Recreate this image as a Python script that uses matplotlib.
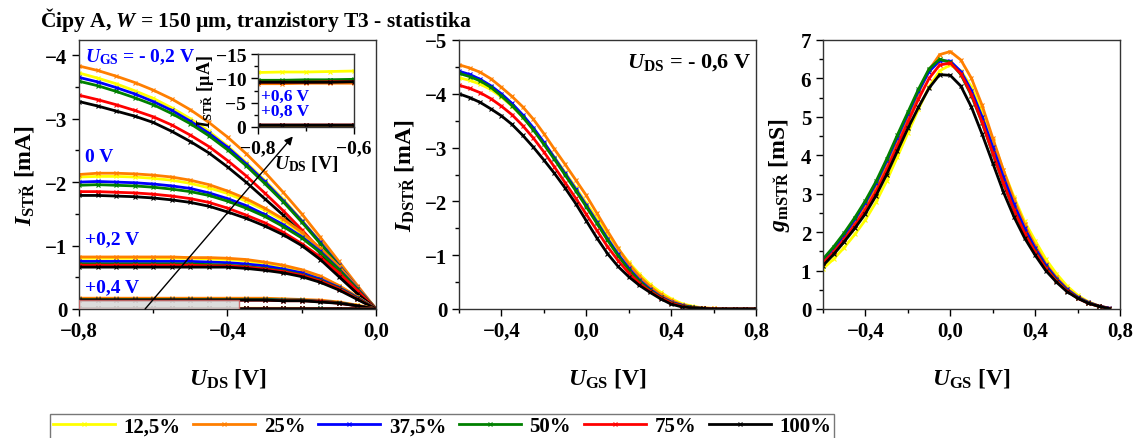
import numpy as np
import matplotlib
matplotlib.use('Agg')
import matplotlib.pyplot as plt
from matplotlib.ticker import MultipleLocator, FuncFormatter
from matplotlib.patches import Rectangle

plt.rcParams['font.family'] = ['Liberation Serif', 'DejaVu Serif']
plt.rcParams['font.weight'] = 'bold'
plt.rcParams['axes.labelweight'] = 'bold'
plt.rcParams['mathtext.fontset'] = 'custom'
plt.rcParams['mathtext.rm'] = 'Liberation Serif:bold'
plt.rcParams['mathtext.it'] = 'Liberation Serif:bold:italic'
plt.rcParams['mathtext.bf'] = 'Liberation Serif:bold'

####################  data  ####################
series = ['12,5%', '25%', '37,5%', '50%', '75%', '100%']
colors = ['#ffff00', '#ff7f00', '#0000ff', '#008000', '#ff0000', '#000000']

# output characteristics, U_DS [V], I [mA]
uds = [-0.80, -0.75, -0.70, -0.65, -0.60, -0.55, -0.50, -0.45, -0.40,
       -0.35, -0.30, -0.25, -0.20, -0.15, -0.10, -0.05, 0.00]

ids_m02 = [
    [-3.72, -3.64, -3.55, -3.44, -3.32, -3.17, -3.00, -2.80, -2.57, -2.31, -2.03, -1.73, -1.40, -1.06, -0.70, -0.34, 0],
    [-3.83, -3.76, -3.67, -3.57, -3.45, -3.31, -3.14, -2.94, -2.71, -2.45, -2.16, -1.84, -1.50, -1.13, -0.75, -0.37, 0],
    [-3.65, -3.58, -3.49, -3.39, -3.27, -3.13, -2.96, -2.77, -2.55, -2.29, -2.01, -1.71, -1.39, -1.05, -0.69, -0.34, 0],
    [-3.59, -3.52, -3.43, -3.33, -3.22, -3.08, -2.92, -2.73, -2.51, -2.26, -1.98, -1.69, -1.37, -1.03, -0.68, -0.33, 0],
    [-3.37, -3.30, -3.22, -3.13, -3.03, -2.90, -2.74, -2.56, -2.34, -2.10, -1.83, -1.55, -1.25, -0.93, -0.61, -0.29, 0],
    [-3.27, -3.20, -3.12, -3.04, -2.94, -2.80, -2.64, -2.46, -2.24, -2.00, -1.74, -1.48, -1.19, -0.88, -0.56, -0.26, 0],
]
ids_0 = [
    [-2.08, -2.09, -2.09, -2.08, -2.06, -2.03, -1.98, -1.91, -1.82, -1.70, -1.56, -1.39, -1.19, -0.94, -0.66, -0.33, 0],
    [-2.12, -2.14, -2.14, -2.13, -2.11, -2.08, -2.03, -1.96, -1.86, -1.74, -1.59, -1.42, -1.21, -0.96, -0.67, -0.34, 0],
    [-2.00, -2.01, -2.00, -1.99, -1.97, -1.94, -1.90, -1.83, -1.74, -1.63, -1.49, -1.33, -1.14, -0.91, -0.63, -0.32, 0],
    [-1.95, -1.96, -1.95, -1.94, -1.92, -1.89, -1.85, -1.79, -1.70, -1.59, -1.46, -1.30, -1.12, -0.89, -0.62, -0.31, 0],
    [-1.85, -1.85, -1.84, -1.83, -1.81, -1.78, -1.74, -1.68, -1.59, -1.48, -1.36, -1.21, -1.03, -0.82, -0.57, -0.29, 0],
    [-1.79, -1.79, -1.78, -1.77, -1.75, -1.72, -1.68, -1.62, -1.53, -1.43, -1.31, -1.17, -1.00, -0.78, -0.51, -0.24, 0],
]
ids_p02 = [
    [-0.80, -0.80, -0.80, -0.80, -0.80, -0.80, -0.80, -0.79, -0.78, -0.76, -0.72, -0.67, -0.60, -0.50, -0.37, -0.19, 0],
    [-0.82, -0.82, -0.82, -0.82, -0.82, -0.82, -0.81, -0.81, -0.80, -0.78, -0.74, -0.69, -0.62, -0.52, -0.37, -0.19, 0],
    [-0.75, -0.75, -0.75, -0.75, -0.75, -0.75, -0.75, -0.74, -0.73, -0.71, -0.68, -0.63, -0.57, -0.47, -0.34, -0.18, 0],
    [-0.71, -0.71, -0.71, -0.71, -0.71, -0.71, -0.71, -0.70, -0.69, -0.67, -0.64, -0.60, -0.54, -0.45, -0.33, -0.17, 0],
    [-0.69, -0.69, -0.69, -0.69, -0.69, -0.69, -0.69, -0.68, -0.68, -0.66, -0.63, -0.59, -0.53, -0.44, -0.32, -0.16, 0],
    [-0.66, -0.66, -0.66, -0.66, -0.66, -0.66, -0.66, -0.66, -0.66, -0.64, -0.61, -0.57, -0.51, -0.42, -0.30, -0.15, 0],
]
ids_p04 = [
    [-0.16, -0.16, -0.16, -0.16, -0.16, -0.16, -0.16, -0.16, -0.16, -0.16, -0.16, -0.15, -0.14, -0.13, -0.10, -0.06, 0],
    [-0.17, -0.17, -0.17, -0.17, -0.17, -0.17, -0.17, -0.17, -0.17, -0.17, -0.17, -0.16, -0.15, -0.14, -0.11, -0.06, 0],
    [-0.15, -0.15, -0.15, -0.15, -0.15, -0.15, -0.15, -0.15, -0.15, -0.15, -0.15, -0.14, -0.14, -0.12, -0.10, -0.05, 0],
    [-0.15, -0.15, -0.15, -0.15, -0.15, -0.15, -0.15, -0.15, -0.15, -0.15, -0.15, -0.14, -0.14, -0.12, -0.10, -0.05, 0],
    [-0.14, -0.14, -0.14, -0.14, -0.14, -0.14, -0.14, -0.14, -0.14, -0.14, -0.14, -0.13, -0.13, -0.12, -0.09, -0.05, 0],
    [-0.14, -0.14, -0.14, -0.14, -0.14, -0.14, -0.14, -0.14, -0.14, -0.14, -0.14, -0.13, -0.13, -0.11, -0.09, -0.05, 0],
]
# +0,6 V and +0,8 V in uA (inset)
ids_p06_uA = [
    [-11.2, -11.3, -11.3, -11.4, -11.5, -11.5, -11.5, -11.5, -11.5, -11.4, -11.3, -11.0, -10.5, -9.5, -7.5, -4.3, 0],
    [-8.9, -8.9, -9.0, -9.0, -9.0, -9.0, -9.0, -9.0, -9.0, -8.9, -8.8, -8.6, -8.2, -7.4, -5.9, -3.4, 0],
    [-9.5, -9.5, -9.5, -9.6, -9.6, -9.6, -9.6, -9.6, -9.6, -9.5, -9.4, -9.2, -8.8, -7.9, -6.3, -3.6, 0],
    [-9.6, -9.6, -9.7, -9.7, -9.8, -9.8, -9.8, -9.8, -9.8, -9.7, -9.6, -9.4, -8.9, -8.0, -6.4, -3.7, 0],
    [-9.2, -9.2, -9.2, -9.3, -9.3, -9.3, -9.3, -9.3, -9.3, -9.2, -9.1, -8.9, -8.5, -7.7, -6.1, -3.5, 0],
    [-9.2, -9.2, -9.2, -9.2, -9.3, -9.3, -9.3, -9.3, -9.3, -9.2, -9.1, -8.9, -8.5, -7.6, -6.1, -3.5, 0],
]
ids_p08_uA = [
    [-0.3, -0.3, -0.3, -0.3, -0.3, -0.3, -0.3, -0.3, -0.3, -0.3, -0.3, -0.3, -0.3, -0.3, -0.2, -0.1, 0],
    [-0.3, -0.3, -0.3, -0.3, -0.3, -0.3, -0.3, -0.3, -0.3, -0.3, -0.3, -0.3, -0.3, -0.3, -0.2, -0.1, 0],
    [-0.3, -0.3, -0.3, -0.3, -0.3, -0.3, -0.3, -0.3, -0.3, -0.3, -0.3, -0.3, -0.3, -0.3, -0.2, -0.1, 0],
    [-0.3, -0.3, -0.3, -0.3, -0.3, -0.3, -0.3, -0.3, -0.3, -0.3, -0.3, -0.3, -0.3, -0.3, -0.2, -0.1, 0],
    [-0.4, -0.4, -0.4, -0.4, -0.4, -0.4, -0.4, -0.4, -0.4, -0.4, -0.4, -0.4, -0.4, -0.3, -0.3, -0.1, 0],
    [-0.4, -0.4, -0.4, -0.4, -0.4, -0.4, -0.4, -0.4, -0.4, -0.4, -0.4, -0.4, -0.4, -0.3, -0.3, -0.1, 0],
]

# transfer characteristics at U_DS = -0,6 V
ugs = [-0.60, -0.55, -0.50, -0.45, -0.40, -0.35, -0.30, -0.25, -0.20, -0.15,
       -0.10, -0.05, 0.00, 0.05, 0.10, 0.15, 0.20, 0.25, 0.30, 0.35,
       0.40, 0.45, 0.50, 0.55, 0.60, 0.65, 0.70, 0.75, 0.80]
idtr = [
    [-4.30, -4.25, -4.18, -4.08, -3.94, -3.77, -3.57, -3.34, -3.09, -2.82, -2.54, -2.26, -1.97, -1.68, -1.39,
     -1.12, -0.87, -0.65, -0.46, -0.31, -0.19, -0.10, -0.05, -0.02, -0.01, 0, 0, 0, 0],
    [-4.54, -4.48, -4.40, -4.28, -4.12, -3.95, -3.76, -3.53, -3.26, -2.97, -2.69, -2.40, -2.11, -1.78, -1.45,
     -1.13, -0.84, -0.61, -0.42, -0.27, -0.16, -0.08, -0.04, -0.02, -0.01, 0, 0, 0, 0],
    [-4.42, -4.36, -4.27, -4.15, -4.00, -3.82, -3.61, -3.37, -3.10, -2.81, -2.52, -2.23, -1.93, -1.62, -1.31,
     -1.02, -0.76, -0.54, -0.37, -0.23, -0.13, -0.07, -0.03, -0.01, 0, 0, 0, 0, 0],
    [-4.38, -4.32, -4.24, -4.12, -3.96, -3.78, -3.57, -3.33, -3.06, -2.78, -2.49, -2.20, -1.90, -1.59, -1.28,
     -0.99, -0.73, -0.52, -0.35, -0.22, -0.12, -0.06, -0.03, -0.01, 0, 0, 0, 0, 0],
    [-4.16, -4.10, -4.02, -3.91, -3.77, -3.61, -3.41, -3.18, -2.92, -2.64, -2.35, -2.06, -1.76, -1.46, -1.16,
     -0.90, -0.67, -0.48, -0.33, -0.21, -0.11, -0.05, -0.02, -0.01, 0, 0, 0, 0, 0],
    [-4.00, -3.93, -3.84, -3.72, -3.59, -3.43, -3.23, -3.01, -2.77, -2.52, -2.25, -1.96, -1.64, -1.32, -1.03,
     -0.79, -0.60, -0.44, -0.31, -0.19, -0.09, -0.04, -0.02, -0.01, 0, 0, 0, 0, 0],
]

# transconductance [mS]
ugs_gm = ugs[:-1]
gm = [
    [1.05, 1.30, 1.60, 1.94, 2.32, 2.78, 3.33, 3.95, 4.58, 5.20, 5.78, 6.20, 6.35, 6.20,
     5.78, 5.15, 4.40, 3.62, 2.92, 2.28, 1.78, 1.30, 0.92, 0.60, 0.36, 0.19, 0.08, 0.02],
    [1.20, 1.50, 1.85, 2.24, 2.66, 3.15, 3.72, 4.34, 4.98, 5.62, 6.22, 6.62, 6.70, 6.48,
     6.00, 5.30, 4.45, 3.62, 2.85, 2.20, 1.65, 1.18, 0.82, 0.53, 0.32, 0.18, 0.08, 0.02],
    [1.25, 1.57, 1.93, 2.33, 2.77, 3.27, 3.85, 4.46, 5.07, 5.67, 6.18, 6.46, 6.45, 6.18,
     5.68, 5.00, 4.22, 3.44, 2.72, 2.10, 1.58, 1.14, 0.79, 0.51, 0.31, 0.17, 0.08, 0.02],
    [1.30, 1.62, 1.98, 2.38, 2.82, 3.32, 3.90, 4.52, 5.12, 5.72, 6.25, 6.50, 6.42, 6.10,
     5.55, 4.85, 4.05, 3.28, 2.58, 1.98, 1.50, 1.08, 0.75, 0.48, 0.29, 0.16, 0.07, 0.01],
    [1.20, 1.48, 1.81, 2.18, 2.58, 3.05, 3.62, 4.24, 4.86, 5.46, 6.00, 6.35, 6.40, 6.12,
     5.58, 4.86, 4.06, 3.28, 2.58, 1.98, 1.48, 1.06, 0.73, 0.47, 0.28, 0.15, 0.07, 0.01],
    [1.13, 1.42, 1.75, 2.10, 2.48, 2.95, 3.50, 4.10, 4.70, 5.25, 5.75, 6.10, 6.08, 5.80,
     5.25, 4.55, 3.80, 3.05, 2.40, 1.85, 1.40, 1.00, 0.70, 0.45, 0.28, 0.15, 0.07, 0.01],
]

####################  figure  ####################
W, H = 1146, 439
fig = plt.figure(figsize=(W / 100, H / 100), dpi=100)


def fig_rect(x0, y0, x1, y1):
    return [x0 / W, 1 - y1 / H, (x1 - x0) / W, (y1 - y0) / H]


def comma(fmt):
    return FuncFormatter(lambda v, p: (fmt % v).replace('.', ',').replace('-', '\u2212'))


def style(ax, fs=15):
    ax.tick_params(which='both', direction='out', top=False, right=False, labelsize=fs)
    ax.tick_params(which='major', length=5, width=1)
    ax.tick_params(which='minor', length=3, width=1)
    for s in ax.spines.values():
        s.set_linewidth(1.0)
        s.set_color('#333333')


line_kw = dict(lw=2.0, marker='x', ms=3.5, mew=0.8)

ax1 = fig.add_axes(fig_rect(79, 41, 376, 310))
ax2 = fig.add_axes(fig_rect(459, 41, 756, 310))
ax3 = fig.add_axes(fig_rect(823, 41, 1120, 310))
axin = fig.add_axes(fig_rect(258, 55, 354, 128))

# panel 1
for grp in [ids_m02, ids_0, ids_p02, ids_p04]:
    for vals, c in zip(grp, colors):
        ax1.plot(uds, vals, color=c, **line_kw)
for grp in [ids_p06_uA, ids_p08_uA]:
    for vals, c in zip(grp, colors):
        ax1.plot(uds, np.array(vals) / 1000.0, color=c, **line_kw)
ax1.add_patch(Rectangle((-0.8, 0), 0.43, -0.14, facecolor='#d9d9d9', edgecolor='#c86464',
                        lw=1, alpha=0.9, zorder=3))
ax1.set_xlim(-0.8, 0.0)
ax1.set_ylim(0, -4.24)
ax1.xaxis.set_major_locator(MultipleLocator(0.4))
ax1.xaxis.set_minor_locator(MultipleLocator(0.2))
ax1.yaxis.set_major_locator(MultipleLocator(1))
ax1.yaxis.set_minor_locator(MultipleLocator(0.5))
ax1.xaxis.set_major_formatter(comma('%.1f'))
ax1.yaxis.set_major_formatter(comma('%.0f'))
style(ax1)
ax1.set_xlabel(r'$U_{\mathrm{DS}}$ [V]', fontsize=17, labelpad=18)
ax1.set_ylabel(r'$I_{\mathrm{STŘ}}$ [mA]', fontsize=17, labelpad=6)
blue_kw = dict(color='#0000ff', fontsize=14, fontweight='bold', transform=ax1.transData,
               va='center', ha='left')
ax1.text(-0.785, -3.99, r'$U_{\mathrm{GS}}$ = - 0,2 V', **blue_kw)
ax1.text(-0.785, -2.41, '0 V', **blue_kw)
ax1.text(-0.785, -1.10, '+0,2 V', **blue_kw)
ax1.text(-0.785, -0.35, '+0,4 V', **blue_kw)
ax1.annotate('', xy=(-0.224, -2.72), xytext=(-0.622, 0.0),
             arrowprops=dict(arrowstyle='-|>', lw=1.0, color='k', mutation_scale=12,
                             shrinkA=0, shrinkB=0), zorder=10)

# inset
for grp in [ids_p06_uA, ids_p08_uA]:
    for vals, c in zip(grp, colors):
        axin.plot(uds, vals, color=c, **line_kw)
axin.set_xlim(-0.8, -0.6)
axin.set_ylim(0, -15)
axin.xaxis.set_major_locator(MultipleLocator(0.2))
axin.xaxis.set_minor_locator(MultipleLocator(0.1))
axin.yaxis.set_major_locator(MultipleLocator(5))
axin.yaxis.set_minor_locator(MultipleLocator(2.5))
axin.xaxis.set_major_formatter(comma('%.1f'))
axin.yaxis.set_major_formatter(comma('%.0f'))
style(axin, fs=14)
axin.set_xlabel(r'$U_{\mathrm{DS}}$ [V]', fontsize=14, labelpad=-2)
axin.set_ylabel(r'$I_{\mathrm{STŘ}}$ [µA]', fontsize=13, labelpad=0)
axin.text(0.03, 0.43, '+0,6 V', transform=axin.transAxes, color='#0000ff', fontsize=12.5,
          fontweight='bold', va='center')
axin.text(0.03, 0.22, '+0,8 V', transform=axin.transAxes, color='#0000ff', fontsize=12.5,
          fontweight='bold', va='center')

# panel 2
for vals, c in zip(idtr, colors):
    ax2.plot(ugs, vals, color=c, **line_kw)
ax2.set_xlim(-0.6, 0.8)
ax2.set_ylim(0, -5)
ax2.set_xticks([-0.4, 0.0, 0.4, 0.8])
ax2.xaxis.set_minor_locator(MultipleLocator(0.2))
ax2.yaxis.set_major_locator(MultipleLocator(1))
ax2.yaxis.set_minor_locator(MultipleLocator(0.5))
ax2.xaxis.set_major_formatter(comma('%.1f'))
ax2.yaxis.set_major_formatter(comma('%.0f'))
style(ax2)
ax2.set_xlabel(r'$U_{\mathrm{GS}}$ [V]', fontsize=17, labelpad=18)
ax2.set_ylabel(r'$I_{\mathrm{DSTŘ}}$ [mA]', fontsize=17, labelpad=6)
ax2.text(0.985, 0.92, r'$U_{\mathrm{DS}}$ = - 0,6 V', transform=ax2.transAxes, fontsize=16,
         fontweight='bold', ha='right', va='center')

# panel 3
for vals, c in zip(gm, colors):
    ax3.plot(ugs_gm, vals, color=c, **line_kw)
ax3.set_xlim(-0.6, 0.8)
ax3.set_ylim(0, 7)
ax3.set_xticks([-0.4, 0.0, 0.4, 0.8])
ax3.xaxis.set_minor_locator(MultipleLocator(0.2))
ax3.yaxis.set_major_locator(MultipleLocator(1))
ax3.yaxis.set_minor_locator(MultipleLocator(0.5))
ax3.xaxis.set_major_formatter(comma('%.1f'))
ax3.yaxis.set_major_formatter(comma('%.0f'))
style(ax3)
ax3.set_xlabel(r'$U_{\mathrm{GS}}$ [V]', fontsize=17, labelpad=18)
ax3.set_ylabel(r'$g_{\mathrm{mSTŘ}}$ [mS]', fontsize=17, labelpad=6)

# title
fig.text(40 / W, 1 - 20 / H, r'Čipy A, $W$ = 150 µm, tranzistory T3 - statistika',
         fontsize=15.5, fontweight='bold', ha='left', va='center')

# legend
handles = [plt.Line2D([], [], color=c, **line_kw) for c in colors]
fig.legend(handles, series, loc='upper left', bbox_to_anchor=(40 / W, 1 - 405 / H),
           ncol=6, frameon=True, fancybox=False, edgecolor='#555555',
           handlelength=3.0, handletextpad=0.4, columnspacing=0.6, borderpad=0.1,
           prop={'weight': 'bold', 'size': 15})

fig.savefig('out.png', dpi=100)
